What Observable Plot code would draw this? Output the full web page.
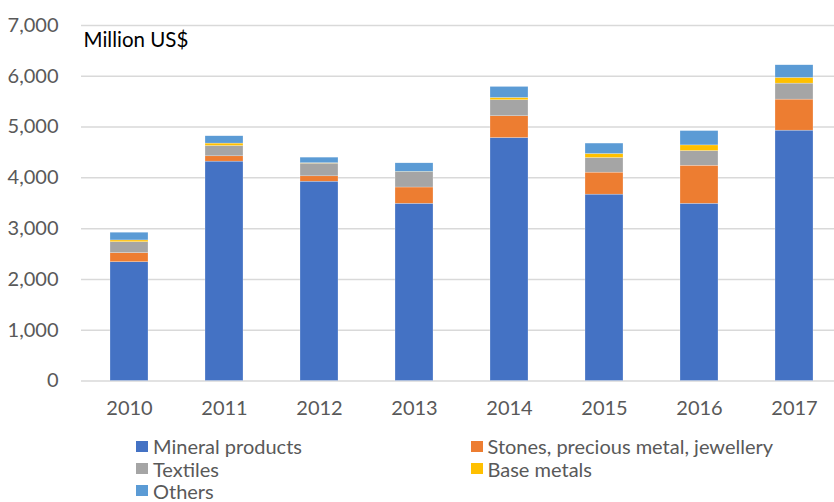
<!DOCTYPE html>
<html><head><meta charset="utf-8">
<script src="https://cdn.jsdelivr.net/npm/d3@7"></script>
<script src="https://cdn.jsdelivr.net/npm/@observablehq/plot@0.6"></script>
<style>
body{margin:0;background:#fff;font-family:Lato,sans-serif;}
#chart{position:relative;width:834px;height:502px;overflow:hidden;}
#chart svg{display:block;}
.item{position:absolute;display:flex;align-items:center;font-size:20px;color:#595959;white-space:nowrap;line-height:1;height:20px;}
.sw{width:12px;height:11px;margin-right:5px;flex:none;}
</style></head><body><div id="chart"></div>
<script>
const years = ["2010","2011","2012","2013","2014","2015","2016","2017"];
const seriesNames = ["Mineral products","Stones, precious metal, jewellery","Textiles","Base metals","Others"];
const seriesColors = ["#4472C4","#ED7D31","#A5A5A5","#FFC000","#5B9BD5"];
const mineral  = [2340,4320,3925,3490,4785,3670,3490,4930];
const stones   = [178,104,105,320,428,433,749,611];
const textiles = [216,203,250,300,315,288,288,315];
const baseMetals = [34,48,8,6,46,79,112,111];
const others   = [152,144,110,170,216,205,282,250];
const yTicks = [0,1000,2000,3000,4000,5000,6000,7000];
const unitLabel = "Million US$";

const seriesValues = [mineral, stones, textiles, baseMetals, others];
const rows = [];
seriesNames.forEach((s, i) => years.forEach((y, j) => rows.push({year: y, series: s, value: seriesValues[i][j]})));

const chart = Plot.plot({
  width: 834,
  height: 430,
  marginTop: 25,
  marginBottom: 49.5,
  marginLeft: 81,
  marginRight: 0,
  style: {fontFamily: "Lato, sans-serif", background: "#fff", overflow: "visible"},
  x: {domain: years, range: [80.7, 842.6], paddingInner: 0.6, paddingOuter: 0.3, label: null},
  y: {domain: [0, 7000], label: null},
  color: {domain: seriesNames, range: seriesColors},
  marks: [
    Plot.ruleY(yTicks, {stroke: "#d9d9d9", strokeWidth: 1.5}),
    Plot.barY(rows, Plot.stackY({x: "year", y: "value", fill: "series", stroke: "#ffffff", strokeWidth: 0.4, strokeOpacity: 0.6})),
    Plot.axisY(yTicks, {tickSize: 0, tickPadding: 23, fontSize: 20, fill: "#595959", tickFormat: d3.format(",")}),
    Plot.axisX({tickSize: 0, tickPadding: 20, fontSize: 20, fill: "#595959"}),
    Plot.text([unitLabel], {frameAnchor: "top-left", dx: 2, dy: 6.5, lineAnchor: "top", textAnchor: "start", fontSize: 20.5, fill: "#000"})
  ]
});
const root = document.getElementById("chart");
root.appendChild(chart);

const legendPos = [[136, 446],[470.5, 446],[136, 468.5],[470.5, 468.5],[136, 490.5]];
seriesNames.forEach((s, i) => {
  const d = document.createElement("div");
  d.className = "item";
  d.style.left = legendPos[i][0] + "px";
  d.style.top = (legendPos[i][1] - 10) + "px";
  const sw = document.createElement("span");
  sw.className = "sw";
  sw.style.background = seriesColors[i];
  const t = document.createElement("span");
  t.textContent = s;
  d.appendChild(sw); d.appendChild(t);
  root.appendChild(d);
});
</script></body></html>
